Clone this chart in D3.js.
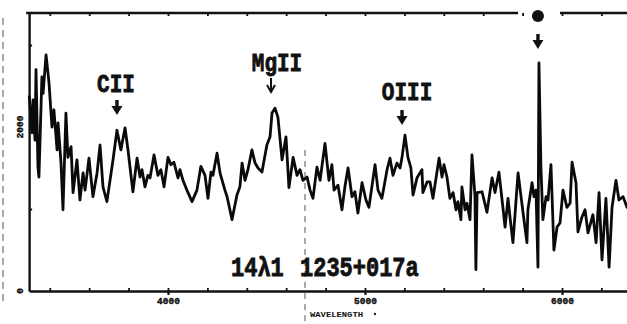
<!DOCTYPE html>
<html>
<head>
<meta charset="utf-8">
<script src="https://cdn.jsdelivr.net/npm/d3@7"></script>
<style>
  html, body { margin: 0; padding: 0; background: #fff; }
  svg { display: block; }
  .axis path, .axis line { stroke: #111; }
  .mono { font-family: "Liberation Mono", "DejaVu Sans Mono", monospace; font-weight: bold; fill: #111; }
  .heavy { stroke: #111; stroke-width: 0.7; paint-order: stroke; }
</style>
</head>
<body>
<svg id="chart" width="627" height="324"></svg>
<script>
// Spectrum of 1235+017a: wavelength (Å) and flux (counts)
const wavelength = [3296,3310,3315,3325,3330,3340,3345,3360,3366,3381,3396,3411,3421,3437,3442,3457,3467,3482,3492,3508,3518,3538,3553,3569,3579,3599,3619,3640,3655,3670,3690,3721,3741,3761,3782,3797,3822,3843,3858,3868,3883,3898,3909,3929,3949,3964,3980,4000,4015,4030,4051,4061,4076,4096,4122,4147,4167,4188,4203,4218,4228,4249,4264,4289,4300,4325,4350,4365,4376,4391,4406,4426,4442,4457,4477,4502,4518,4528,4543,4558,4579,4599,4614,4635,4655,4670,4685,4706,4721,4736,4756,4772,4797,4817,4832,4843,4863,4883,4898,4914,4934,4949,4964,4985,5005,5020,5051,5066,5086,5112,5127,5142,5162,5178,5188,5203,5218,5233,5244,5264,5289,5294,5315,5330,5345,5376,5391,5401,5416,5431,5447,5462,5472,5487,5492,5508,5518,5533,5543,5558,5563,5569,5594,5619,5645,5660,5680,5700,5711,5726,5736,5751,5777,5802,5822,5827,5848,5858,5868,5878,5883,5893,5903,5919,5929,5944,5959,5975,5990,6005,6025,6041,6051,6071,6081,6101,6117,6132,6157,6173,6188,6203,6223,6239,6254,6274,6289,6310,6330];
const flux = [2370,1930,2330,1840,2700,1510,1390,2610,2410,2880,2540,2000,2210,1720,2050,1560,990,2170,1630,1760,1200,1600,1110,1440,1230,1620,1150,1440,1780,1270,1090,1600,1960,1720,1990,1720,1210,1620,1390,1480,1270,1410,1380,1660,1410,1480,1270,1630,1540,1570,1380,1480,1350,1230,1090,1230,1520,1410,1130,1450,1410,1680,1440,1230,1150,870,1170,1270,1560,1350,1480,1720,1560,1500,1450,1780,1880,2170,2230,2120,1600,1880,1260,1630,1410,1480,1350,1390,1230,1130,1510,1350,1800,1350,1540,1230,1290,990,1270,1500,1150,1210,950,1320,1110,1020,1540,1230,1130,1480,1620,1410,1560,1500,1630,1900,1630,1500,1170,1380,1480,1200,1330,1330,1130,1620,1390,1540,1390,1130,1200,990,1090,870,1270,990,1070,870,1660,1170,260,1200,1210,960,1380,1200,1450,1020,780,1130,900,590,1440,960,590,990,1320,1150,1230,290,2780,1510,870,1150,1110,1540,500,780,830,1230,1020,1070,1570,1320,720,900,990,710,930,590,1200,380,1130,290,1020,1350,1110,1150,1020];

// Axis ticks and labels
const xMinorTicks = d3.range(3400, 6401, 200);
const xMajorTicks = [4000, 5000, 6000];
const xTickLabels = ["4000", "5000", "6000"];
const yTicks = [1000, 2000, 3000];
const yLabelValues = [2000, 0];
const yTickLabels = ["2000", "0"];
const xTitle = "WAVELENGTH";

// Identified emission lines
const lineNames = ["CII", "MgII", "OIII"];
const lineWavelengths = [3741, 4523, 5188];
const lineArrowFilled = [true, false, true];
const skyLineWavelength = 5878;
const objectLabel = ["14λ1", "1235+017a"];

const svg = d3.select("#chart");

const x = d3.scaleLinear().domain([3295, 6400]).range([29.1, 640.8]);
const y = d3.scaleLinear().domain([0, 3390]).range([291, 13]);

// bottom axis: minor ticks inward, major ticks crossing
const gMinor = svg.append("g").attr("class", "axis")
  .attr("transform", `translate(0,${y(0)})`)
  .call(d3.axisBottom(x).tickValues(xMinorTicks).tickSize(-3).tickSizeOuter(0).tickFormat(""));
gMinor.select(".domain").attr("stroke-width", 2.4);
gMinor.selectAll(".tick line").attr("stroke-width", 1.8);

const gMajor = svg.append("g").attr("class", "axis")
  .attr("transform", `translate(0,${y(0)})`)
  .call(d3.axisBottom(x).tickValues(xMajorTicks).tickSize(4).tickPadding(2)
    .tickFormat((d, i) => xTickLabels[i]));
gMajor.select(".domain").remove();
gMajor.selectAll(".tick line").attr("stroke-width", 2.2);
gMajor.selectAll(".tick text")
  .attr("class", "mono heavy").attr("font-size", 9.5).attr("fill", "#111")
  .style("stroke-width", 0.4);

// top axis ticks
const gTop = svg.append("g").attr("class", "axis")
  .attr("transform", `translate(0,13)`)
  .call(d3.axisTop(x).tickValues(xMinorTicks).tickSize(-3).tickFormat(""));
gTop.select(".domain").remove();
gTop.selectAll(".tick line").attr("stroke-width", 1.8);

// top frame line, broken around the marker
const topSegments = [[3280, 5777], [5990, 6400]];
svg.append("g").selectAll("line").data(topSegments).join("line")
  .attr("x1", d => x(d[0])).attr("x2", d => x(d[1]))
  .attr("y1", 13).attr("y2", 13)
  .attr("stroke", "#111").attr("stroke-width", 2.4);

// left axis
const gLeft = svg.append("g").attr("class", "axis")
  .attr("transform", `translate(${x(3295)},0)`)
  .call(d3.axisLeft(y).tickValues(yTicks).tickSize(-3).tickSizeOuter(0).tickFormat(""));
gLeft.select(".domain").attr("stroke-width", 2.4);
gLeft.selectAll(".tick line").attr("stroke-width", 2);

svg.append("g").selectAll("text").data(yLabelValues).join("text")
  .attr("class", "mono heavy").attr("font-size", 9.5).style("stroke-width", 0.4)
  .attr("text-anchor", "middle")
  .attr("transform", d => `translate(23,${y(d)}) rotate(-90)`)
  .text((d, i) => yTickLabels[i]);

// axis title
svg.append("text").attr("class", "mono")
  .attr("x", 310).attr("y", 317)
  .attr("font-family", "Liberation Sans, Arial, sans-serif")
  .attr("font-size", 7.5).attr("textLength", 53).attr("lengthAdjust", "spacingAndGlyphs")
  .text(xTitle);
svg.append("circle").attr("cx", 375).attr("cy", 314).attr("r", 1.2).attr("fill", "#222");

// scanner guide marks
svg.append("line").attr("x1", 3).attr("x2", 3).attr("y1", 18).attr("y2", 302)
  .attr("stroke", "#555").attr("stroke-width", 1).attr("stroke-dasharray", "7,5");
svg.append("line").attr("x1", 305).attr("x2", 305).attr("y1", 150).attr("y2", 324)
  .attr("stroke", "#555").attr("stroke-width", 1).attr("stroke-dasharray", "6,5");

// spectrum
const n = Math.min(wavelength.length, flux.length);
const pts = d3.range(n).map(i => [wavelength[i], flux[i]]);
svg.append("path")
  .datum(pts)
  .attr("fill", "none")
  .attr("stroke", "#0a0a0a")
  .attr("stroke-width", 2.8)
  .attr("stroke-linejoin", "round")
  .attr("stroke-linecap", "round")
  .attr("d", d3.line().x(d => x(d[0])).y(d => y(d[1])));

// line identifications
const labelBaselines = [92, 71, 100];
const labelDx = [-1, 6, 5];
const arrowTops = [100, 78, 110];

function filledArrow(g, cx, top) {
  g.append("rect").attr("x", cx - 1.7).attr("y", top).attr("width", 3.4).attr("height", 7).attr("fill", "#111");
  g.append("path").attr("fill", "#111")
    .attr("d", `M${cx - 5.5},${top + 6} L${cx + 5.5},${top + 6} L${cx},${top + 15} Z`);
}
function openArrow(g, cx, top) {
  g.append("path").attr("fill", "none").attr("stroke", "#111").attr("stroke-width", 2)
    .attr("d", `M${cx},${top} L${cx},${top + 14} M${cx - 4},${top + 7} L${cx},${top + 14} L${cx + 4},${top + 7}`);
}

const gLines = svg.append("g");
lineNames.forEach((name, i) => {
  const cx = x(lineWavelengths[i]);
  gLines.append("text").attr("class", "mono heavy")
    .attr("font-size", 21).attr("text-anchor", "middle")
    .attr("transform", `translate(${cx + labelDx[i]},${labelBaselines[i]}) scale(1,1.2)`)
    .text(name);
  if (lineArrowFilled[i]) filledArrow(gLines, cx, arrowTops[i]);
  else openArrow(gLines, cx, arrowTops[i]);
});

// marker for the bright line
const sx = x(skyLineWavelength);
svg.append("circle").attr("cx", sx).attr("cy", 16).attr("r", 6).attr("fill", "#111");
filledArrow(svg, sx, 34);

// object designation
svg.append("text").attr("class", "mono heavy").attr("font-size", 22)
  .attr("transform", "translate(231,276) scale(1,1.27)").text(objectLabel[0]);
svg.append("text").attr("class", "mono heavy").attr("font-size", 22)
  .attr("transform", "translate(300,276) scale(1,1.27)").text(objectLabel[1]);
</script>
</body>
</html>
